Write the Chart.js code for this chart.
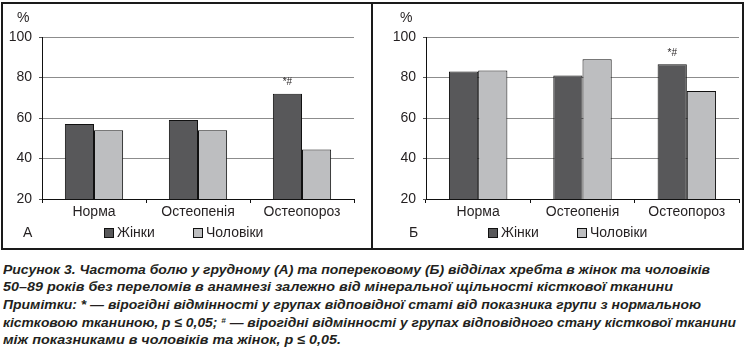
<!DOCTYPE html>
<html>
<head>
<meta charset="utf-8">
<script src="https://cdn.jsdelivr.net/npm/chart.js"></script>
<style>
  body { margin: 0; width: 747px; height: 351px; overflow: hidden; position: relative; background: #fff;
         font-family: "Liberation Sans", Arial, sans-serif; color: #231f20; }
  .frame { position: absolute; left: 1px; top: 2px; width: 739px; height: 244px; border: 2px solid #1a1a1a; }
  .divider { position: absolute; left: 371px; top: 2px; width: 2px; height: 248px; background: #1a1a1a; }
  canvas { position: absolute; top: 0; }
  .lbl { position: absolute; font-size: 14px; line-height: 16px; white-space: nowrap; }
  .box { position: absolute; width: 8px; height: 8px; border: 1px solid #111; top: 228px; }
  .cap { position: absolute; left: 3px; font: italic bold 13.5px/16px "Liberation Sans", Arial, sans-serif;
         color: #231f20; white-space: nowrap; transform-origin: 0 50%; }
  .cap sup { font-size: 8px; vertical-align: 4px; line-height: 0; }
</style>
</head>
<body>
<div class="frame"></div>
<div class="divider"></div>

<canvas id="chartA" width="373" height="250" style="left:0"></canvas>
<canvas id="chartB" width="374" height="250" style="left:373px"></canvas>

<div class="lbl" style="left:17px;top:9px">%</div>
<div class="lbl" style="left:400px;top:9px">%</div>

<div class="lbl" style="left:23px;top:224px">А</div>
<div class="box" style="left:104px;background:#58585a"></div>
<div class="lbl" style="left:117px;top:224px">Жінки</div>
<div class="box" style="left:193px;background:#bdbec0"></div>
<div class="lbl" style="left:206px;top:224px">Чоловіки</div>

<div class="lbl" style="left:409px;top:224px">Б</div>
<div class="box" style="left:488px;background:#58585a"></div>
<div class="lbl" style="left:501px;top:224px">Жінки</div>
<div class="box" style="left:577px;background:#bdbec0"></div>
<div class="lbl" style="left:590px;top:224px">Чоловіки</div>

<div class="cap" data-w="707" style="top:262px">Рисунок 3. Частота болю у грудному (А) та поперековому (Б) відділах хребта в жінок та чоловіків</div>
<div class="cap" data-w="670" style="top:279px">50–89 років без переломів в анамнезі залежно від мінеральної щільності кісткової тканини</div>
<div class="cap" data-w="698" style="top:297px">Примітки: * — вірогідні відмінності у групах відповідної статі від показника групи з нормальною</div>
<div class="cap" data-w="733" style="top:315px">кістковою тканиною, p ≤ 0,05; <sup>#</sup> — вірогідні відмінності у групах відповідного стану кісткової тканини</div>
<div class="cap" data-w="338" style="top:332px">між показниками в чоловіків та жінок, p ≤ 0,05.</div>

<script>
const categories = ['Норма', 'Остеопенія', 'Остеопороз'];
const womenA = [57, 59, 72];
const menA = [54, 54, 44.5];
const womenB = [83, 81, 86.5];
const menB = [83.5, 89, 73.3];
const yTicks = [20, 40, 60, 80, 100];
const marks = ['', '', '*#'];

const FONT = '"Liberation Sans", Arial, sans-serif';
const INK = '#231f20';

// draws the significance marks above the women's bars
const markPlugin = {
  id: 'marks',
  afterDatasetsDraw(chart) {
    const ctx = chart.ctx;
    const meta = chart.getDatasetMeta(0);
    ctx.save();
    ctx.fillStyle = INK;
    ctx.font = '10px ' + FONT;
    ctx.textAlign = 'center';
    ctx.textBaseline = 'middle';
    meta.data.forEach((bar, i) => {
      if (marks[i]) ctx.fillText(marks[i], bar.x, bar.y - 11);
    });
    ctx.restore();
  }
};

function makeChart(id, women, men, axisW, padRight) {
  return new Chart(document.getElementById(id), {
    type: 'bar',
    data: {
      labels: categories,
      datasets: [
        { label: 'Жінки', data: women, backgroundColor: '#58585a', borderColor: '#111', borderWidth: 1 },
        { label: 'Чоловіки', data: men, backgroundColor: '#bdbec0', borderColor: '#111', borderWidth: 1 }
      ]
    },
    options: {
      responsive: false,
      animation: false,
      categoryPercentage: 0.56,
      barPercentage: 1,
      layout: { padding: { left: 0, right: padRight, top: 37, bottom: 29 } },
      plugins: { legend: { display: false }, tooltip: { enabled: false } },
      scales: {
        x: {
          grid: { drawOnChartArea: false, offset: true, tickLength: 4, color: '#111' },
          border: { color: '#111', width: 1 },
          ticks: { color: INK, font: { size: 14, family: FONT }, padding: 1 },
          afterFit: s => { s.height = 22; }
        },
        y: {
          min: 20, max: 100,
          afterBuildTicks: s => { s.ticks = yTicks.map(v => ({ value: v })); },
          grid: { color: '#8c8c8c', tickLength: 3, tickColor: '#555' },
          border: { color: '#111', width: 1 },
          ticks: { color: INK, font: { size: 14, family: FONT }, padding: 7 },
          afterFit: s => { s.width = axisW; }
        }
      }
    },
    plugins: [markPlugin]
  });
}

makeChart('chartA', womenA, menA, 42, 19);
makeChart('chartB', womenB, menB, 53, 8);

document.querySelectorAll('.cap').forEach(el => {
  const w = el.getBoundingClientRect().width;
  el.style.transform = 'scaleX(' + (el.dataset.w / w) + ')';
});
</script>
</body>
</html>
